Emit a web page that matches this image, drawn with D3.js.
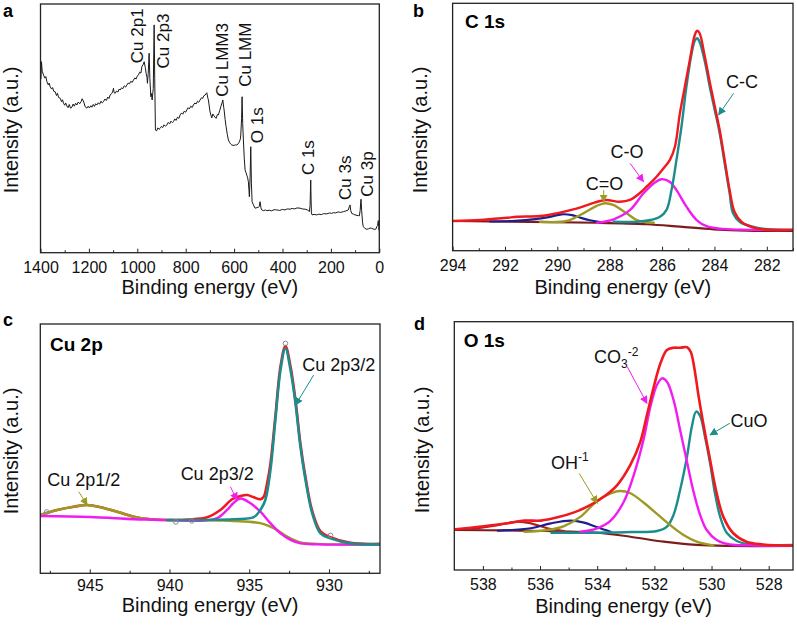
<!DOCTYPE html>
<html><head><meta charset="utf-8">
<script src="https://cdn.jsdelivr.net/npm/d3@7"></script>
<style>
body{margin:0;background:#fff;}
svg{display:block;font-family:"Liberation Sans",Arial,Helvetica,sans-serif;}
</style></head><body>
<svg id="chart" width="797" height="629"></svg>
<script>
// ---------------- DATA ----------------
// Panel a: survey spectrum [binding energy eV, intensity a.u.]
const surveyData = [[1398,70],[1396,76.8],[1393,73],[1387.6,71.5],[1382,70.2],[1378,70.8],[1373.6,68.8],[1368,67.5],[1364,68.2],[1359.9,66.7],[1354,65.8],[1350,66.4],[1345,64.9],[1339.3,64.7],[1334,63.2],[1330,64.1],[1325,62.4],[1318.6,62.1],[1313,60.7],[1309,61.5],[1305,60.1],[1300,59.3],[1296,60.2],[1291,59.0],[1286,58.3],[1281,59.6],[1276,58.1],[1270.3,58.5],[1265,59.8],[1260,58.9],[1255,60.1],[1249.7,59.4],[1244,60.6],[1238,59.9],[1232,60.8],[1228,61.9],[1224.9,61.4],[1220,60.2],[1215,58.6],[1208.4,58.1],[1203,58.9],[1198,58.2],[1192,59.1],[1187.7,58.5],[1182,59.6],[1177,58.8],[1172,59.9],[1167.1,59.4],[1161,60.3],[1156,59.7],[1150,60.9],[1145,60.2],[1139.8,60.7],[1134,61.8],[1128,61.2],[1122,62.6],[1117,62.0],[1112.2,63.4],[1107,63.9],[1102,64.6],[1098.5,66.1],[1096,64.4],[1091.5,64.1],[1086,65.0],[1080,64.6],[1075,65.8],[1070.9,65.4],[1065,66.3],[1060,65.9],[1054,67.1],[1048,66.6],[1043.2,67.4],[1038,68.2],[1032,67.9],[1027,68.9],[1021,68.5],[1015.9,69.4],[1010,70.3],[1005,69.8],[1000,71.0],[995.3,71.5],[990,72.6],[985,72.2],[981.2,74.8],[975,75.8],[971.7,76.8],[967,74.5],[963.5,72.1],[960,70.5],[958.1,68.1],[955,72],[951.1,80.2],[948,70],[944.1,62.7],[941,64],[938.7,61.4],[934,66],[930.4,91.6],[928,70],[925.1,49.3],[920,49.0],[915,50.2],[910,49.6],[905.7,50.0],[900,50.8],[895,50.3],[890,51.4],[884,50.9],[878,51.3],[872,52.4],[866,51.8],[861,52.9],[855,52.3],[850.7,52.7],[845,53.8],[840,53.2],[834,54.5],[828,54.0],[823,55.4],[817,56.2],[812,55.7],[806,56.9],[800,56.5],[795.4,57.4],[790,58.3],[785,57.8],[779,58.9],[773,58.4],[768.1,59.4],[762,60.2],[757,59.8],[751,60.9],[746,60.5],[740.5,61.4],[735,62.3],[730,62.0],[725,63.1],[719.8,63.4],[712.8,64.3],[708,62],[706.2,61.4],[700,57],[696.3,55.4],[692,54.2],[688,55.8],[685.5,55.4],[680,54.6],[674.4,54.0],[669,55.6],[664.9,55.4],[659,57.3],[655,58.7],[650,60.2],[646.7,61.4],[643,58.5],[641.3,57.4],[637,53.5],[633.1,50.7],[628,47.5],[623.6,45.3],[618,44.2],[613,43.6],[609.5,43.3],[600,43.1],[594,43.4],[588.9,43.3],[583,43.8],[578.2,44.6],[574,45.8],[572.4,47.3],[569,54],[567,62.7],[564.5,52],[561.6,45.3],[558,38],[554.6,33.3],[551,32.2],[547.6,31.2],[544,30.1],[541,28.5],[538.5,25],[536.9,22.5],[534,30],[531.1,42.6],[528.5,28],[525.7,20.5],[520,19.2],[513.3,17.9],[506,18.1],[499.7,18.3],[496,18.6],[492.7,20.5],[489,18],[485.7,17.2],[478,16.9],[470,17.2],[465,16.9],[455,17.1],[445,16.8],[435,17.3],[423.7,17.2],[412,17.0],[400,17.4],[390,17.2],[380,17.6],[368.8,17.5],[360,17.8],[350,17.6],[340,18.0],[327.5,17.9],[318,17.6],[306.8,17.5],[296,17.2],[289.1,16.5],[286,19],[284.5,25],[283.3,29.2],[282,22],[280.5,16],[277.9,15.2],[270,15.4],[258.5,15.2],[250,15.5],[240,15.3],[230,15.7],[217.2,15.6],[205,16.0],[197,15.8],[190,16.1],[180,16.0],[170,16.4],[160,16.2],[148.7,16.5],[138,16.8],[128,17.2],[124,18.5],[121,19.2],[118,17],[114,15.8],[107,15.5],[100.4,15.2],[92,15.0],[86,14.9],[82.6,14.8],[79,17],[77,20],[75.5,21.5],[73,17],[69,12],[66,10.5],[60,9.8],[52,9.4],[45,9.6],[38,9.9],[31.4,9.8],[25,9.5],[17.7,9.4],[13,9.6],[10.7,10.5],[7,11],[4.1,12.9],[2.5,10.5],[1.2,9.1]];
const surveyPeakLabels = ["Cu 2p1","Cu 2p3","Cu LMM3","Cu LMM","O 1s","C 1s","Cu 3s","Cu 3p"];
const surveyPeakPos = [[1002.5,76.2],[892.6,74.1],[651.2,62.7],[555,66.7],[506.6,44],[293.4,31.2],[141.7,21.2],[52.1,22.5]];
const surveyTicks = [1400,1200,1000,800,600,400,200,0];
const surveyMinor = [1300,1100,900,700,500,300,100];

// Panel b: C 1s
const c1sBackground = [[294,12.0],[288.49,11.3],[286.58,10.7],[285.31,9.7],[284.03,8.65],[282.76,8.1],[281,7.96]];
const c1sPeak290 = [[292.57,11.8],[291.62,12.1],[290.85,12.8],[290.28,13.7],[289.84,14.7],[289.44,14.4],[289.14,13.4],[288.76,12.3],[288.37,11.6]];
const c1sCeqO = [[290.66,11.7],[289.65,12.0],[289.01,15.1],[288.5,18.1],[288.18,19.2],[287.87,18.5],[287.35,15.1],[286.97,12.4],[286.72,11.7],[286.32,11.3]];
const c1sCO = [[288.49,11.3],[287.85,12.7],[287.22,16.5],[286.71,23.2],[286.32,27.2],[286.02,28.9],[285.7,27.8],[285.45,24.5],[285.07,17.8],[284.68,12.4],[284.3,9.9],[283.8,8.9],[283,8.5],[281,8.4]];
const c1sCC = [[287.85,11.7],[286.96,11.7],[286.45,12.4],[286.08,13.7],[285.83,16.5],[285.64,24.5],[285.45,36.7],[285.26,50.1],[285.07,66.3],[284.87,79.8],[284.75,84.9],[284.66,85.9],[284.57,84.5],[284.38,77.1],[284.18,66.3],[283.99,56.9],[283.8,47.5],[283.61,35.3],[283.42,23.2],[283.29,15.1],[283.03,11.6],[282.65,10.0],[282.08,8.8],[281,8.4]];
const c1sEnvelope = [[294,12.0],[292.95,12.4],[291.94,13.3],[291.54,13.7],[290.66,14.0],[290.03,15.1],[289.39,16.7],[288.76,18.8],[288.37,20.1],[288.12,20.5],[287.61,19.8],[287.23,20.5],[286.85,23.3],[286.59,25.9],[286.21,29.9],[285.89,34.0],[285.7,36.7],[285.51,42.0],[285.32,55.5],[285.13,66.3],[284.94,77.1],[284.75,87.2],[284.66,88.9],[284.57,88.0],[284.38,79.1],[284.18,68.2],[283.99,58.5],[283.8,48.8],[283.61,36.7],[283.42,24.5],[283.23,15.6],[282.96,11.6],[282.38,9.0],[281,8.4]];
const c1sTicks = [294,292,290,288,286,284,282];
const c1sMinor = [293,291,289,287,285,283,281];

// Panel c: Cu 2p
const cu2p12 = [[948.1,23.4],[947.04,25.4],[946.0,26.7],[945.16,27.4],[944.33,26.5],[943.28,24.7],[942.24,22.7],[941.19,21.7],[940.15,21.4],[938.06,21.3],[935.97,21.0],[934.3,20.1],[933.46,18.1],[932.62,14.7],[931.79,12.4],[930.74,11.8],[929.7,11.6],[926.8,11.6]];
const cu2p32Sat = [[948.1,23.0],[945,22.6],[942.24,21.7],[941,21.5],[938.06,21.1],[937.01,22.1],[936.39,25.4],[935.97,28.3],[935.55,30.0],[934.92,28.1],[934.3,24.7],[933.67,20.1],[933.04,16.0],[932.41,13.4],[931.79,12.0],[930.74,11.6],[926.8,11.6]];
const cu2p32Main = [[940.15,21.4],[935.97,21.7],[934.72,22.5],[934.3,25.4],[933.99,29.4],[933.67,41.4],[933.36,61.5],[933.04,81.5],[932.73,90.3],[932.41,81.5],[932.1,68.2],[931.79,50.8],[931.47,37.4],[931.05,24.1],[930.53,16.0],[929.91,14.0],[928.66,12.0],[926.8,11.6]];
const cu2pEnvelope = [[948.1,23.4],[947.04,25.4],[946.0,26.7],[945.16,27.4],[944.33,26.5],[943.28,24.7],[942.24,22.7],[941.19,21.7],[940.15,21.4],[938.8,21.6],[937.64,22.5],[936.81,25.4],[936.07,29.7],[935.55,31.0],[935.13,31.4],[934.72,30.5],[934.3,29.7],[934.09,30.7],[933.88,36.1],[933.67,44],[933.36,63],[933.04,83],[932.73,91.2],[932.41,83],[932.1,69.5],[931.79,52],[931.47,38.5],[931.05,25],[930.53,16.8],[929.91,14.5],[928.66,12.2],[926.8,11.8]];
const cu2pRaw = [[947.7,24.6],[939.6,20.6],[938.6,21.0],[932.73,92.2],[929.9,15.2]];
const cu2pTicks = [945,940,935,930];
const cu2pMinor = [947.5,942.5,937.5,932.5,927.5];

// Panel d: O 1s
const o1sBackground = [[538.96,16.1],[536.32,15.8],[534.0,15.0],[532.84,13.4],[531.68,11.4],[530.52,10.1],[529.36,9.7],[527.15,9.7]];
const o1sPeak536 = [[538.41,16.4],[537.48,18.1],[536.78,19.5],[536.32,18.8],[535.74,16.8],[535.16,15.7]];
const o1sPeak535 = [[537.48,15.8],[536.32,16.8],[535.62,18.8],[534.93,19.9],[534.46,19.1],[534.0,17.2],[533.53,15.4]];
const o1sOH = [[536.55,15.4],[535.74,16.1],[535.16,17.7],[534.58,21.5],[534.0,27.9],[533.53,30.9],[533.19,31.8],[532.84,30.9],[532.37,27.1],[531.91,22.6],[531.45,18.1],[530.98,14.1],[530.52,11.4],[529.94,9.9]];
const o1sCO3 = [[534.58,15.4],[534.0,16.8],[533.53,19.9],[533.07,27.5],[532.72,38.3],[532.37,53.0],[532.14,65.8],[531.91,74.5],[531.73,77.2],[531.56,75.8],[531.33,68.5],[531.1,56.4],[530.86,43.6],[530.63,31.5],[530.4,22.2],[530.17,16.1],[529.82,12.1],[529.36,10.3],[528.66,9.9],[527.15,9.7]];
const o1sCuO = [[535.6,15.0],[534.5,15.0],[533.5,15.1],[532.84,15.3],[531.91,15.7],[531.56,17.5],[531.33,22.2],[531.1,32.2],[530.86,45.6],[530.69,57.7],[530.54,63.8],[530.4,62.0],[530.23,53.7],[530.05,43.0],[529.88,30.9],[529.7,21.5],[529.47,15.0],[529.12,11.7],[528.66,10.3],[527.15,10.1]];
const o1sEnvelope = [[538.96,16.4],[538.06,17.5],[537.13,18.8],[536.55,19.9],[535.97,19.9],[535.39,21.2],[534.81,23.2],[534.23,26.2],[533.77,29.5],[533.3,34.2],[532.84,42.3],[532.49,51.7],[532.26,62.4],[532.02,73.8],[531.79,83.2],[531.56,88.6],[531.33,89.5],[531.1,89.5],[530.86,89.7],[530.73,87.9],[530.61,81.9],[530.46,70.5],[530.28,58.4],[530.05,44.3],[529.82,30.9],[529.59,21.5],[529.24,14.8],[528.78,11.4],[528.2,10.3],[527.15,9.8]];
const o1sTicks = [538,536,534,532,530,528];
const o1sMinor = [537,535,533,531,529];

// ---------------- STYLE ----------------
const RED = "#f0191e", TEAL = "#1c8c8c", MAG = "#f21cf0", OLIVE = "#9c9a22", NAVY = "#1c1f8c", MAROON = "#7c1c1c";
const svg = d3.select("#chart");
const defs = svg.append("defs");
function marker(id, color) {
  defs.append("marker").attr("id", id).attr("viewBox", "0 0 10 10").attr("refX", 9).attr("refY", 5)
    .attr("markerWidth", 8).attr("markerHeight", 8).attr("markerUnits", "userSpaceOnUse").attr("orient", "auto")
    .append("path").attr("d", "M0,0L10,5L0,10z").attr("fill", color);
}
marker("arTeal", TEAL); marker("arMag", MAG); marker("arOlive", OLIVE);

function makePanel(cfg) {
  const g = svg.append("g");
  const x = d3.scaleLinear().domain(cfg.xDomain).range([cfg.x0, cfg.x1]);
  const y = d3.scaleLinear().domain([0, 100]).range([cfg.y1, cfg.y0]);
  defs.append("clipPath").attr("id", "clip" + cfg.id).append("rect")
    .attr("x", cfg.x0).attr("y", cfg.y0).attr("width", cfg.x1 - cfg.x0).attr("height", cfg.y1 - cfg.y0);
  const plot = g.append("g").attr("clip-path", `url(#clip${cfg.id})`);
  const ax = g.append("g").attr("transform", `translate(0,${cfg.y1})`)
    .call(d3.axisBottom(x).tickValues(cfg.ticks).tickSizeInner(-4).tickSizeOuter(0).tickPadding(cfg.pad).tickFormat(d3.format("d")));
  ax.select(".domain").remove();
  ax.selectAll("text").attr("font-size", 16).attr("font-family", '"Liberation Sans",Arial,sans-serif').attr("fill", "#111");
  ax.selectAll("line").attr("stroke", "#222");
  const mx = g.append("g").attr("transform", `translate(0,${cfg.y1})`)
    .call(d3.axisBottom(x).tickValues(cfg.minor).tickSizeInner(-2.5).tickSizeOuter(0).tickFormat(""));
  mx.select(".domain").remove();
  mx.selectAll("line").attr("stroke", "#222");
  g.append("rect").attr("x", cfg.x0).attr("y", cfg.y0).attr("width", cfg.x1 - cfg.x0).attr("height", cfg.y1 - cfg.y0)
    .attr("fill", "none").attr("stroke", "#222").attr("stroke-width", 1.3);
  g.append("text").attr("x", (cfg.x0 + cfg.x1) / 2).attr("y", cfg.xTitleY).attr("text-anchor", "middle")
    .attr("font-size", 20).attr("fill", "#111").text("Binding energy (eV)");
  g.append("text").attr("transform", `translate(${cfg.yTitleX},${cfg.yTitleY}) rotate(-90)`).attr("text-anchor", "middle")
    .attr("font-size", 20).attr("fill", "#111").text("Intensity (a.u.)");
  g.append("text").attr("x", cfg.letterX).attr("y", cfg.letterY).attr("font-size", 18).attr("font-weight", "bold")
    .attr("fill", "#000").text(cfg.letter);
  return { g, plot, x, y };
}

function drawLine(p, data, color, width, curve) {
  const line = d3.line().x(d => p.x(d[0])).y(d => p.y(d[1])).curve(curve || d3.curveCatmullRom.alpha(0.5));
  p.plot.append("path").datum(data).attr("d", line).attr("fill", "none").attr("stroke", color)
    .attr("stroke-width", width).attr("stroke-linejoin", "round").attr("stroke-linecap", "round");
}
function arrow(p, from, to, color, mk) {
  p.g.append("line").attr("x1", p.x(from[0])).attr("y1", p.y(from[1])).attr("x2", p.x(to[0])).attr("y2", p.y(to[1]))
    .attr("stroke", color).attr("stroke-width", 1).attr("marker-end", `url(#${mk})`);
}
function label(p, pos, text, anchor) {
  return p.g.append("text").attr("x", p.x(pos[0])).attr("y", p.y(pos[1])).attr("text-anchor", anchor || "middle")
    .attr("font-size", 18).attr("fill", "#111").text(text);
}

// ---------------- PANEL a ----------------
const pa = makePanel({ id: "a", x0: 40.5, y0: 4, x1: 379.3, y1: 252.7, xDomain: [1400, 0], ticks: surveyTicks, minor: surveyMinor, pad: 9,
  xTitleY: 293.5, yTitleX: 17.5, yTitleY: 130, letter: "a", letterX: 3, letterY: 16.5 });
drawLine(pa, surveyData, "#1a1a1a", 1, d3.curveLinear);
surveyPeakLabels.forEach((t, i) => {
  pa.g.append("text").attr("transform", `translate(${pa.x(surveyPeakPos[i][0])},${pa.y(surveyPeakPos[i][1])}) rotate(-90)`)
    .attr("dy", "0.35em").attr("font-size", 17).attr("fill", "#111").text(t);
});

// ---------------- PANEL b ----------------
const pb = makePanel({ id: "b", x0: 452.6, y0: 3.3, x1: 793, y1: 250.7, xDomain: [294, 281], ticks: c1sTicks, minor: c1sMinor, pad: 9,
  xTitleY: 293.5, yTitleX: 427, yTitleY: 130, letter: "b", letterX: 413, letterY: 16.5 });
drawLine(pb, c1sBackground, MAROON, 2.2);
drawLine(pb, c1sPeak290, NAVY, 2.2);
drawLine(pb, c1sCeqO, OLIVE, 2.4);
drawLine(pb, c1sCO, MAG, 2.4);
drawLine(pb, c1sCC, TEAL, 2.4);
drawLine(pb, c1sEnvelope, RED, 2.4);
pb.g.append("text").attr("x", 465).attr("y", 28.3).attr("font-size", 19).attr("font-weight", "bold").attr("fill", "#000").text("C 1s");
label(pb, [282.95, 65.8], "C-C");
arrow(pb, [283.27, 63.6], [283.84, 54.9], TEAL, "arTeal");
label(pb, [287.34, 37.5], "C-O");
arrow(pb, [287.22, 35.3], [286.71, 27.9], MAG, "arMag");
label(pb, [288.2, 24.5], "C=O");
arrow(pb, [288.23, 24.5], [288.23, 19.8], OLIVE, "arOlive");

// ---------------- PANEL c ----------------
const pc = makePanel({ id: "c", x0: 40.3, y0: 324, x1: 380, y1: 573.3, xDomain: [948.1, 926.8], ticks: cu2pTicks, minor: cu2pMinor, pad: 6.5,
  xTitleY: 611.5, yTitleX: 17.5, yTitleY: 451, letter: "c", letterX: 3, letterY: 326 });
drawLine(pc, cu2pEnvelope, RED, 2.6);
drawLine(pc, cu2p12, OLIVE, 2.4);
drawLine(pc, cu2p32Sat, MAG, 2.4);
drawLine(pc, cu2p32Main, TEAL, 2.6);
pc.plot.selectAll("circle.raw").data(cu2pRaw).join("circle").attr("class", "raw")
  .attr("cx", d => pc.x(d[0])).attr("cy", d => pc.y(d[1])).attr("r", 2.3)
  .attr("fill", "none").attr("stroke", "#8a8a8a").attr("stroke-width", 1);
pc.g.append("text").attr("x", 50).attr("y", 351).attr("font-size", 19).attr("font-weight", "bold").attr("fill", "#000").text("Cu 2p");
label(pc, [929.39, 81.1], "Cu 2p3/2");
arrow(pc, [930.96, 79.5], [932.1, 67.5], TEAL, "arTeal");
label(pc, [937.01, 37.4], "Cu 2p3/2");
arrow(pc, [936.18, 34.7], [935.76, 29.4], MAG, "arMag");
label(pc, [945.38, 35.0], "Cu 2p1/2");
arrow(pc, [945.69, 32.7], [945.16, 27.4], OLIVE, "arOlive");

// ---------------- PANEL d ----------------
const pd = makePanel({ id: "d", x0: 454.3, y0: 321.7, x1: 793, y1: 570, xDomain: [539, 527.15], ticks: o1sTicks, minor: o1sMinor, pad: 9,
  xTitleY: 613.3, yTitleX: 429, yTitleY: 450, letter: "d", letterX: 414, letterY: 330 });
drawLine(pd, o1sBackground, MAROON, 2.2);
drawLine(pd, o1sPeak536, "#b0202a", 2.2);
drawLine(pd, o1sPeak535, NAVY, 2.2);
drawLine(pd, o1sCuO, TEAL, 2.4);
drawLine(pd, o1sOH, OLIVE, 2.4);
drawLine(pd, o1sCO3, MAG, 2.4);
drawLine(pd, o1sEnvelope, RED, 2.6);
pd.g.append("text").attr("x", 463.7).attr("y", 346.7).attr("font-size", 19).attr("font-weight", "bold").attr("fill", "#000").text("O 1s");
const co3 = label(pd, [534.11, 83.4], "CO", "start");
co3.append("tspan").attr("font-size", 12).attr("dy", 5).text("3");
co3.append("tspan").attr("font-size", 12).attr("dy", -12).text("-2");
arrow(pd, [532.95, 81.9], [532.26, 67.1], MAG, "arMag");
label(pd, [528.69, 57.7], "CuO");
arrow(pd, [529.36, 59.1], [530.05, 54.4], TEAL, "arTeal");
const oh = label(pd, [535.62, 40.7], "OH", "start");
oh.append("tspan").attr("font-size", 12).attr("dy", -8).text("-1");
arrow(pd, [534.63, 38.9], [534.0, 26.9], OLIVE, "arOlive");
</script>
</body></html>
